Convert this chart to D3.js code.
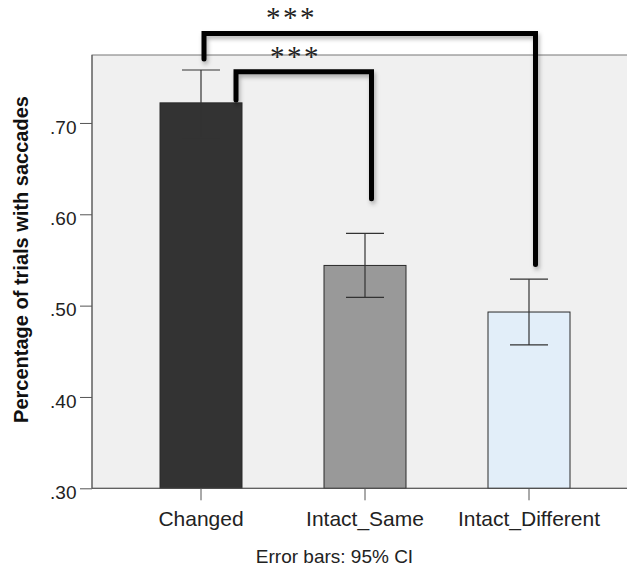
<!DOCTYPE html>
<html>
<head>
<meta charset="utf-8">
<script src="https://cdn.jsdelivr.net/npm/d3@7"></script>
<style>
  html, body { margin: 0; padding: 0; background: #fff; }
  svg { display: block; }
</style>
</head>
<body>
<svg id="chart" width="627" height="570"></svg>
<script>
// Condition means with 95% confidence intervals
const categories = ["Changed", "Intact_Same", "Intact_Different"];
const means = [0.722, 0.544, 0.493];
const ciLow = [0.684, 0.509, 0.457];
const ciHigh = [0.758, 0.579, 0.529];
const barColors = ["#333333", "#999999", "#e2eef9"];
const yTicks = [0.30, 0.40, 0.50, 0.60, 0.70];
const yTickLabels = [".30", ".40", ".50", ".60", ".70"];
// Significance brackets: condition indices, label, bracket height and end heights (data units)
const sigPairs = [
  { from: 0, to: 2, label: "***", level: 0.798, endFrom: 0.770, endTo: 0.545 },
  { from: 0, to: 1, label: "***", level: 0.756, endFrom: 0.725, endTo: 0.617 }
];

const svg = d3.select("#chart");
const plot = { left: 92, top: 55, right: 640, bottom: 488.3 };
const sans = "Liberation Sans, Arial, sans-serif";

const y = d3.scaleLinear().domain([0.30, 0.7744]).range([plot.bottom, plot.top]);
const x = d3.scaleBand().domain(categories).range([119, 611])
  .paddingInner(0.5).paddingOuter(0.25);

// drop shadow for the bracket strokes
const defs = svg.append("defs");
const f = defs.append("filter").attr("id", "shadow")
  .attr("x", "-20%").attr("y", "-20%").attr("width", "140%").attr("height", "140%");
f.append("feDropShadow").attr("dx", 1.5).attr("dy", 3).attr("stdDeviation", 2)
  .attr("flood-color", "#000").attr("flood-opacity", 0.3);

// plot background
svg.append("rect")
  .attr("x", plot.left).attr("y", plot.top)
  .attr("width", plot.right - plot.left).attr("height", plot.bottom - plot.top)
  .attr("fill", "#f0f0f0").attr("stroke", "#777").attr("stroke-width", 1);

// bars
svg.append("g").selectAll("rect").data(categories).join("rect")
  .attr("x", d => x(d))
  .attr("y", (d, i) => y(means[i]))
  .attr("width", x.bandwidth())
  .attr("height", (d, i) => y(0.30) - y(means[i]))
  .attr("fill", (d, i) => barColors[i])
  .attr("stroke", "#2a2a2a").attr("stroke-width", 1);

// error bars
const capHalf = 19;
const eb = svg.append("g").attr("stroke", "#333").attr("stroke-width", 1.2).attr("fill", "none");
categories.forEach((c, i) => {
  const cx = x(c) + x.bandwidth() / 2;
  eb.append("line").attr("x1", cx).attr("x2", cx).attr("y1", y(ciLow[i])).attr("y2", y(ciHigh[i]));
  eb.append("line").attr("x1", cx - capHalf).attr("x2", cx + capHalf).attr("y1", y(ciLow[i])).attr("y2", y(ciLow[i]));
  eb.append("line").attr("x1", cx - capHalf).attr("x2", cx + capHalf).attr("y1", y(ciHigh[i])).attr("y2", y(ciHigh[i]));
});

// y axis
const yAxis = d3.axisLeft(y).tickValues(yTicks)
  .tickFormat((d, i) => yTickLabels[i]).tickSize(12).tickSizeOuter(0).tickPadding(3.5);
const gy = svg.append("g").attr("transform", `translate(${plot.left},0)`).call(yAxis);
gy.select(".domain").attr("stroke", "#555").attr("d", `M0,${plot.top}V${plot.bottom}`);
gy.selectAll(".tick line").attr("stroke", "#555");
gy.selectAll(".tick text").attr("font-family", sans)
  .attr("font-size", 19).attr("fill", "#222").attr("y", 4);

// x axis
const xAxis = d3.axisBottom(x).tickSize(12).tickSizeOuter(0).tickPadding(10.5);
const gx = svg.append("g").attr("transform", `translate(0,${plot.bottom})`).call(xAxis);
gx.select(".domain").attr("stroke", "#555").attr("d", `M${plot.left},0H${plot.right}`);
gx.selectAll(".tick line").attr("stroke", "#555");
gx.selectAll(".tick text").attr("font-family", sans)
  .attr("font-size", 21).attr("fill", "#222");

// axis titles
svg.append("text")
  .attr("transform", "translate(28,259.5) rotate(-90)")
  .attr("text-anchor", "middle")
  .attr("font-family", sans)
  .attr("font-size", 20).attr("font-weight", "bold").attr("fill", "#111")
  .text("Percentage of trials with saccades");

svg.append("text")
  .attr("x", 334.5).attr("y", 563)
  .attr("text-anchor", "middle")
  .attr("font-family", sans)
  .attr("font-size", 19).attr("fill", "#222")
  .text("Error bars: 95% CI");

// significance brackets
const bx = [204, 236];
const bxr = [535.5, 371.5];
const starX = [291.5, 295.5];
const br = svg.append("g");
sigPairs.forEach((p, k) => {
  const x0 = bx[k];
  const x1 = bxr[k];
  const yl = y(p.level);
  br.append("path")
    .attr("d", `M${x0},${y(p.endFrom)}V${yl}H${x1}V${y(p.endTo)}`)
    .attr("fill", "none").attr("stroke", "#000").attr("stroke-width", 5)
    .attr("stroke-linejoin", "miter").attr("stroke-linecap", "round")
    .attr("filter", "url(#shadow)");
  br.append("text")
    .attr("x", starX[k])
    .attr("y", yl - 6)
    .attr("text-anchor", "middle")
    .attr("font-family", "Liberation Serif, Times New Roman, serif")
    .attr("font-size", 29).attr("fill", "#222")
    .attr("letter-spacing", 2.5)
    .text(p.label);
});
</script>
</body>
</html>
